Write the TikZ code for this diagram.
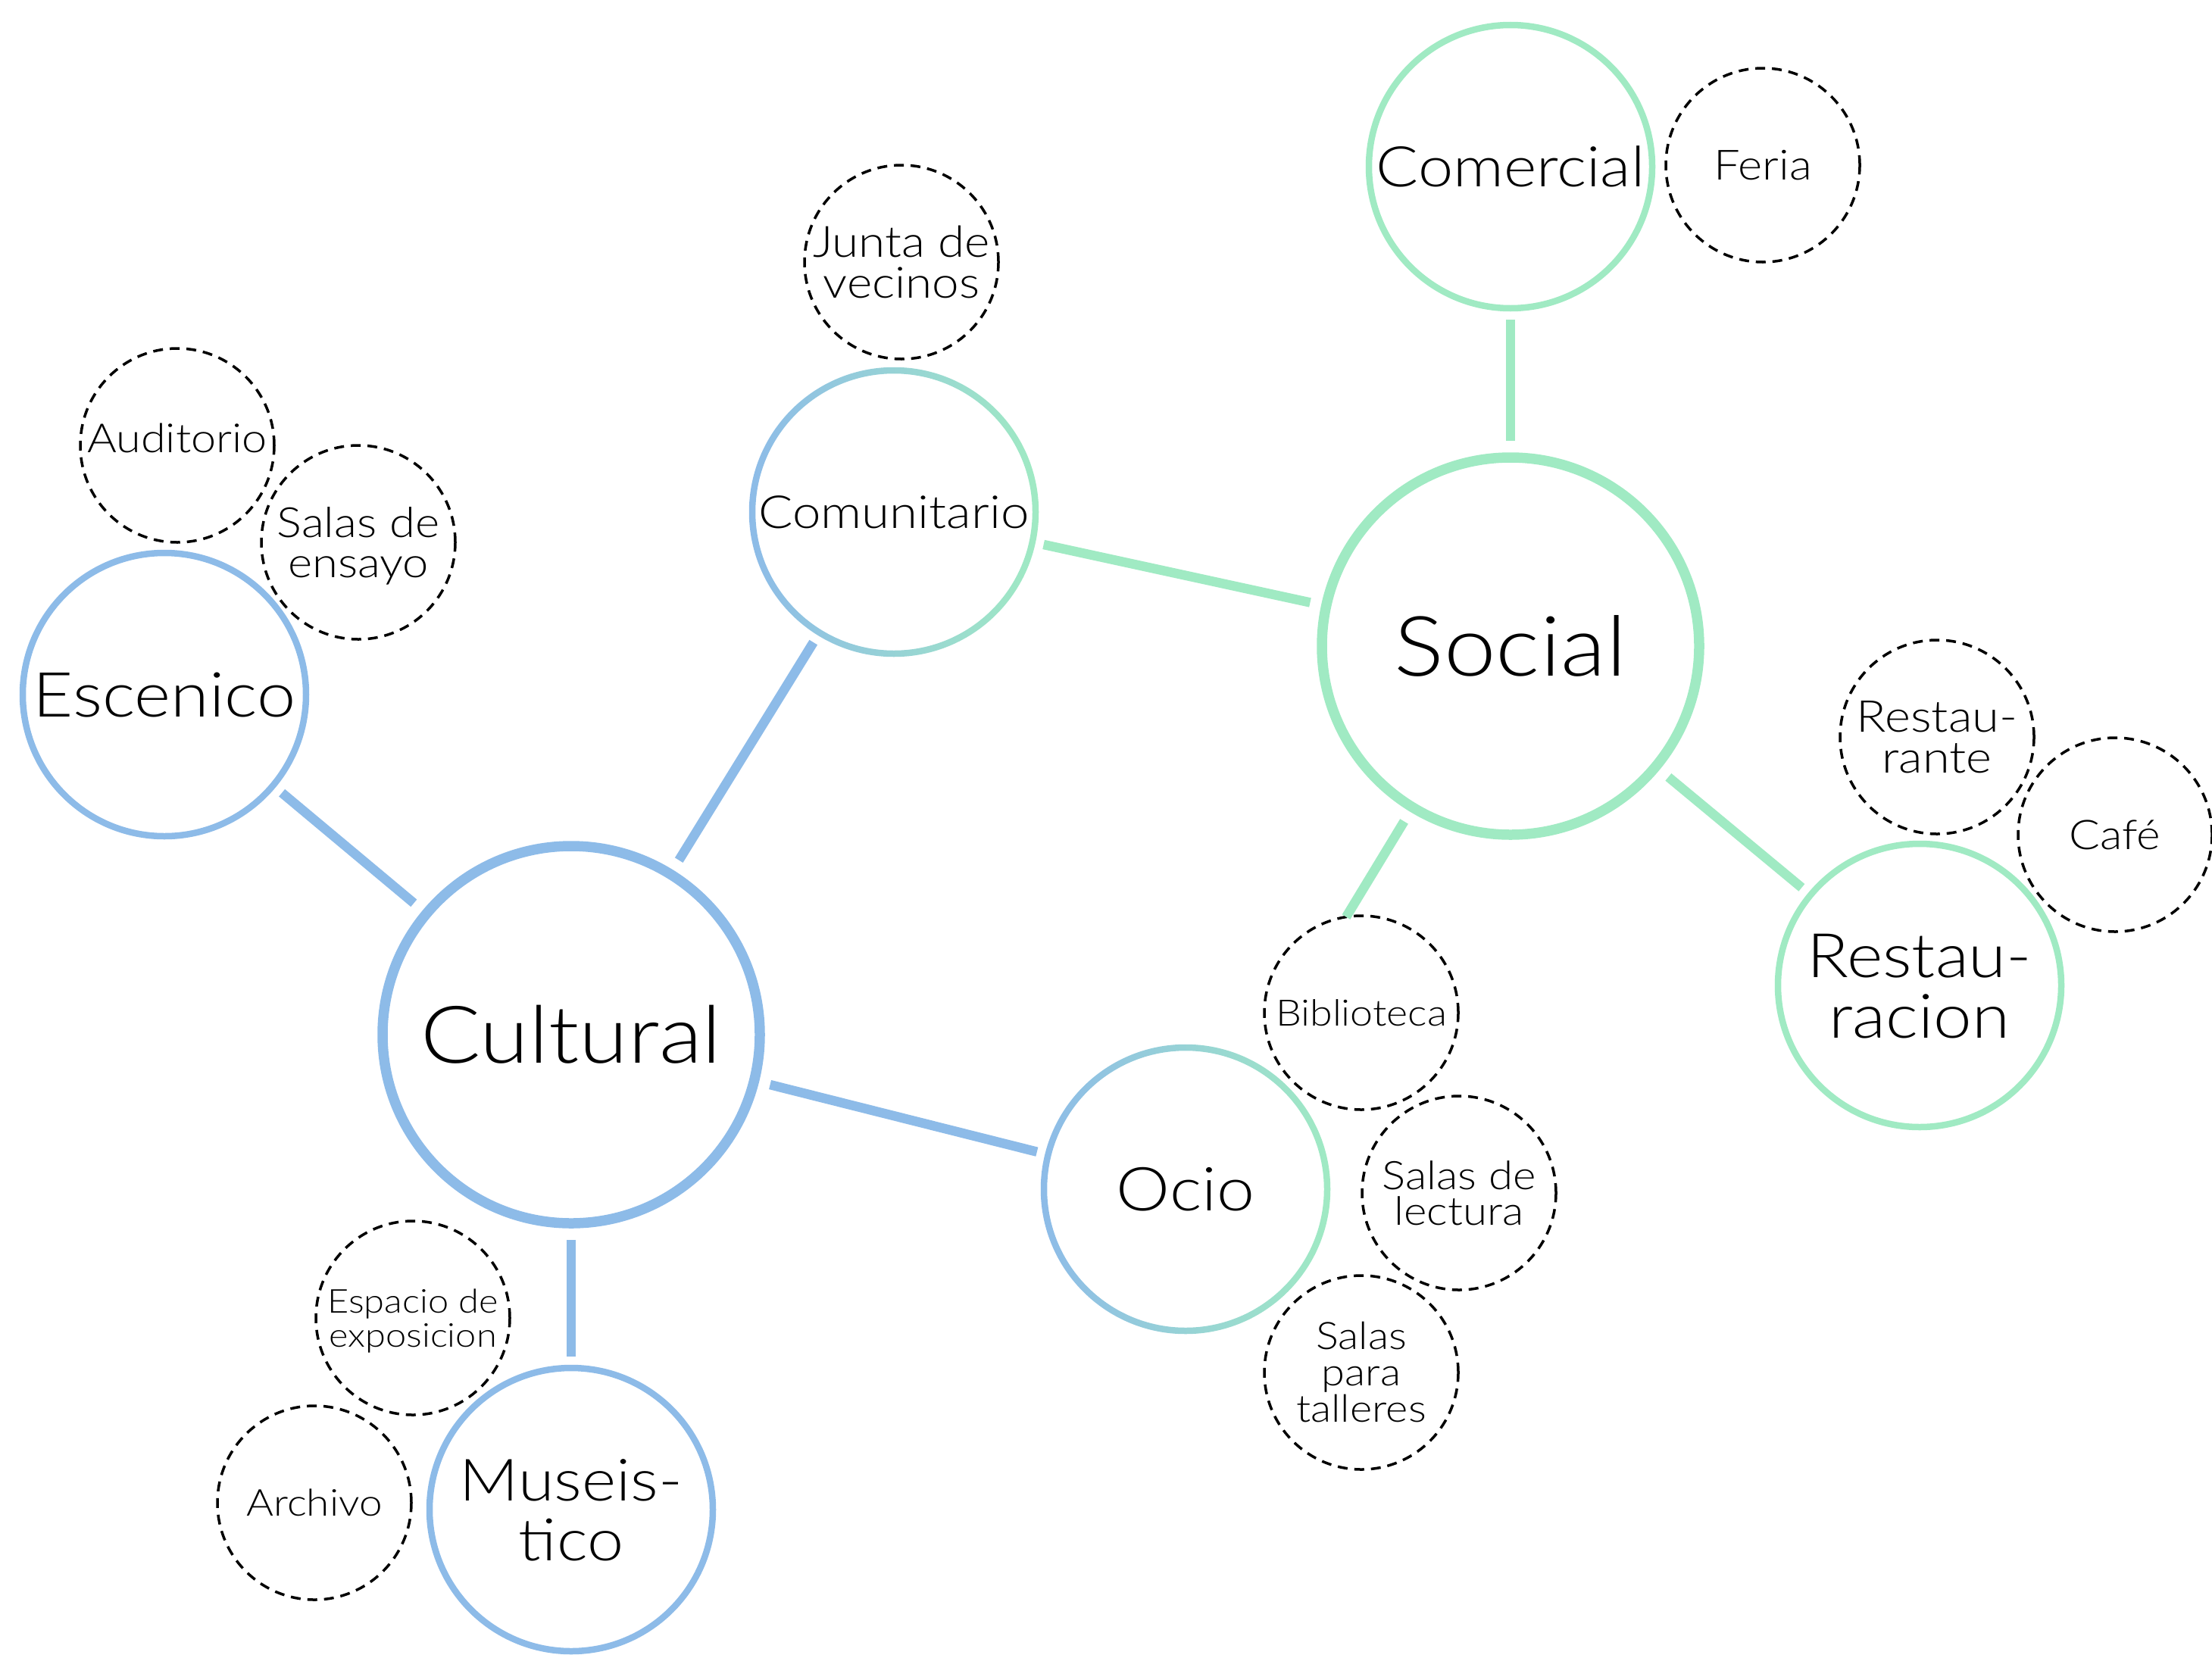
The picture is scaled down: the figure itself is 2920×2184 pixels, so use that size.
\documentclass[tikz,border=0pt]{standalone}
\usepackage{fontspec}
\setmainfont{Lato}[UprightFont=* Light, FakeStretch=1.12]
\definecolor{cblue}{RGB}{141,187,232}
\definecolor{cgreen}{RGB}{160,234,195}
\newcommand\mlines[1]{\vbox{\halign{\hfil##\hfil\cr#1\crcr}}}
\tikzset{
  big/.style={circle, draw, line width=13.5pt, minimum size=498pt, inner sep=0pt, outer sep=6.75pt},
  med/.style={circle, draw, line width=8.5pt, minimum size=374pt, inner sep=0pt, outer sep=4.25pt},
  dashcirc/.style={circle, draw=black, line width=3.5pt, dash pattern=on 13pt off 9pt, minimum size=256pt, inner sep=0pt, outer sep=0pt},
  txt/.style n args={3}{font=\fontsize{#1}{#2}\selectfont, text height=#3, text depth=0pt},
  link/.style={line width=12.5pt},
  gradring/.style={left color=cblue, right color=cgreen, even odd rule},
}
\begin{document}
\begin{tikzpicture}[x=1pt, y=-1pt]
\useasboundingbox (0,0) rectangle (2920,2184);
% main nodes
\node[big, draw=cblue, txt={105}{125}{75.2pt}] (cult) at (754,1366) {Cultural};
\node[big, draw=cgreen, txt={110}{130}{78.8pt}] (soc) at (1994,853) {Social};
\node[med, draw=none, txt={60}{72}{43pt}] (comu) at (1180,676) {Comunitario};
\node[med, draw=none, txt={80}{95}{57.3pt}] (ocio) at (1565,1570) {Ocio};
\node[med, draw=cgreen, txt={74}{88}{53pt}] (com) at (1994,220) {Comercial};
\node[med, draw=cblue, txt={82}{95}{58.8pt}] (esc) at (217,917) {Escenico};
\node[med, draw=cblue, txt={77}{79}{134.2pt}] (muse) at (754,1993) {\mlines{Museis-\cr tico}};
\node[med, draw=cgreen, txt={81}{80}{138pt}] (rest) at (2534,1301) {\mlines{Restau-\cr racion}};
% gradient rings
\shade[gradring] (comu.center) circle[radius=191.25pt] circle[radius=182.75pt];
\shade[gradring] (ocio.center) circle[radius=191.25pt] circle[radius=182.75pt];
% dashed nodes
\node[dashcirc, txt={57}{54}{94.8pt}] (junta) at (1190,346) {\mlines{Junta de\cr vecinos}};
\node[dashcirc, txt={53}{54}{38pt}, text depth=20pt] (aud) at (234,588) {Auditorio};
\node[dashcirc, txt={55}{53}{92.4pt}] (ensayo) at (473,716) {\mlines{Salas de\cr ensayo}};
\node[dashcirc, txt={55}{54}{39.4pt}] (feria) at (2327,218) {Feria};
\node[dashcirc, txt={58}{54}{95.6pt}] (rte) at (2557,973) {\mlines{Restau-\cr rante}};
\node[dashcirc, txt={54}{54}{38.7pt}] (cafe) at (2792,1102) {Café};
\node[dashcirc, txt={48}{54}{34.4pt}] (bibl) at (1797,1337) {Biblioteca};
\node[dashcirc, txt={52}{47}{84.3pt}] (lect) at (1926,1575) {\mlines{Salas de\cr lectura}};
\node[dashcirc, txt={50}{48}{131.8pt}] (tall) at (1797,1812) {\mlines{Salas\cr para\cr talleres}};
\node[dashcirc, txt={43.5}{45}{76.2pt}] (expo) at (545,1740) {\mlines{Espacio de\cr exposicion}};
\node[dashcirc, txt={49}{54}{35.1pt}] (arch) at (415,1984) {Archivo};
% connectors
\draw[link, cblue, shorten <=15pt, shorten >=11pt] (cult) -- (esc);
\draw[link, cblue, shorten <=15pt, shorten >=11pt] (cult) -- (comu);
\draw[link, cblue, shorten <=15pt, shorten >=11pt] (cult) -- (ocio);
\draw[link, cblue, shorten <=15pt, shorten >=11pt] (cult) -- (muse);
\draw[link, cgreen, shorten <=11pt, shorten >=15pt] (comu) -- (soc);
\draw[link, cgreen, shorten <=15pt, shorten >=11pt] (soc) -- (com);
\draw[link, cgreen, shorten <=15pt, shorten >=11pt] (soc) -- (rest);
\draw[link, cgreen, shorten <=15pt] (soc) -- (bibl.99);
\end{tikzpicture}
\end{document}
